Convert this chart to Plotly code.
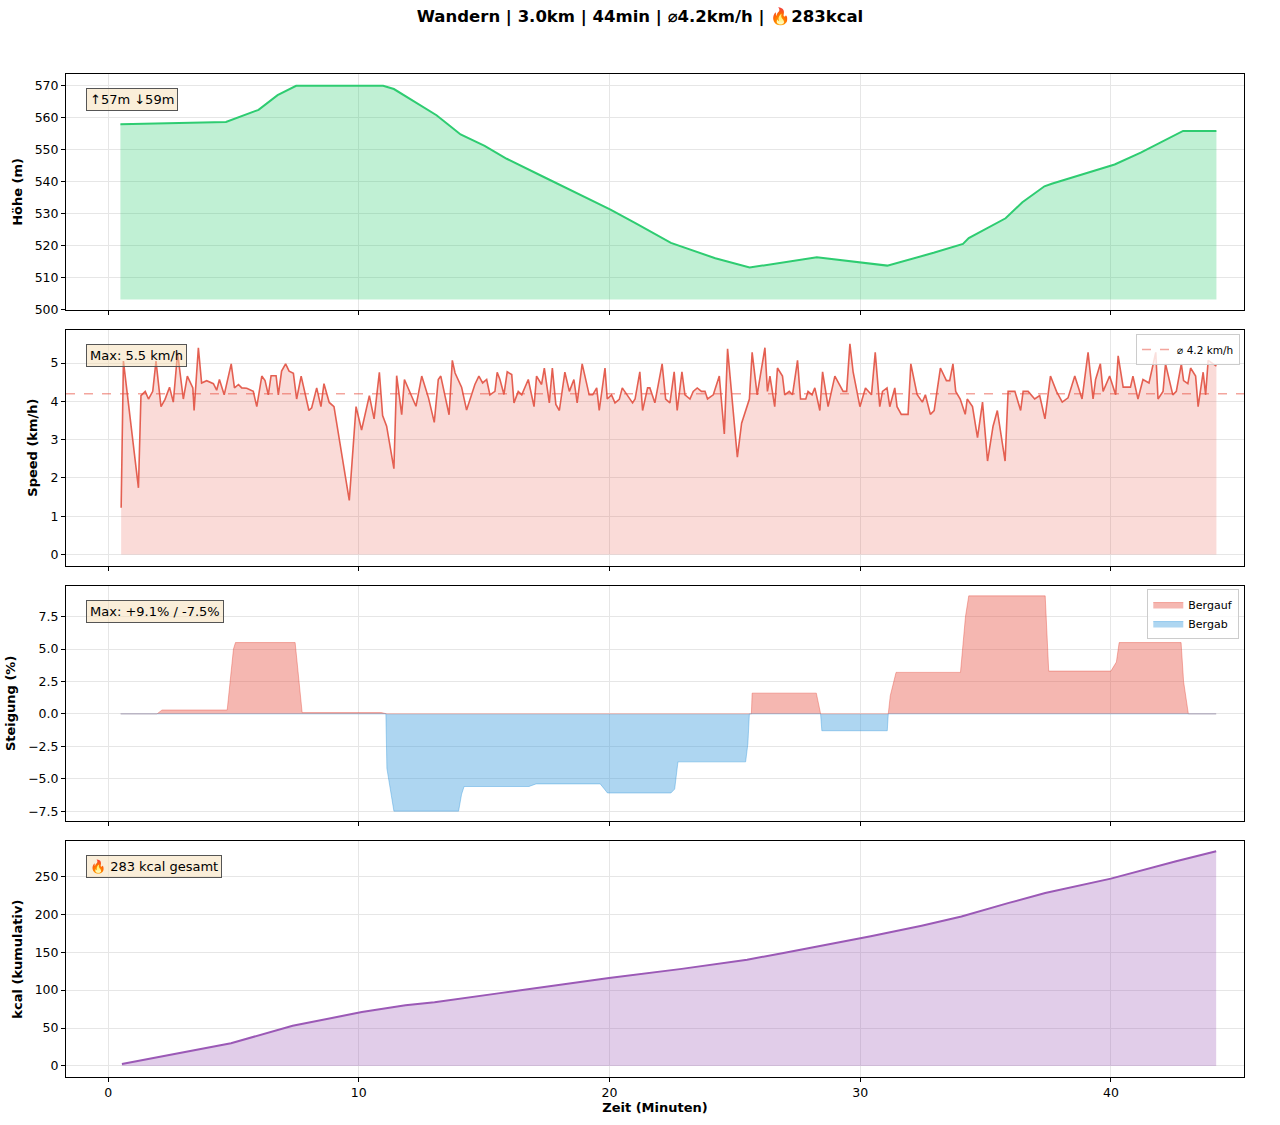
import numpy as np
import plotly.graph_objects as go
from plotly.subplots import make_subplots

# ---------------- DATA ----------------
title_text = "Wandern | 3.0km | 44min | ⌀4.2km/h | 🔥283kcal"

elev_t = [0.49, 4.70, 6.0, 6.76, 7.50, 10.97, 11.4, 13.1, 13.6, 14.06, 15.02, 15.9, 17.38, 18.86,
          20.04, 21.07, 22.0, 22.45, 24.22, 25.59, 28.27, 29.98, 31.08, 32.93, 34.1, 34.33,
          35.8, 36.47, 37.35, 37.64, 40.15, 41.19, 42.88, 44.21]
elev_m = [558.0, 558.7, 562.5, 567.1, 570.0, 570.0, 569.0, 560.8, 557.7, 554.8, 551.2, 547.2, 541.5, 535.7,
          531.3, 526.9, 522.8, 520.9, 516.1, 513.2, 516.4, 514.8, 513.8, 517.8, 520.6, 522.4,
          528.6, 533.6, 538.6, 539.4, 545.4, 549.1, 555.9, 555.9]
elev_label = "↑57m ↓59m"

speed_t = [0.52, 0.61, 1.21, 1.31, 1.48, 1.61, 1.78, 1.91, 2.11, 2.27, 2.45, 2.60, 2.77, 3.00, 3.16, 3.38,
           3.43, 3.60, 3.73, 3.93, 4.20, 4.33, 4.44, 4.63, 4.91, 5.04, 5.20, 5.33, 5.53, 5.79, 5.93, 6.13,
           6.26, 6.39, 6.50, 6.70, 6.79, 6.92, 7.08, 7.22, 7.39, 7.52, 7.70, 8.01, 8.12, 8.32, 8.49, 8.61,
           8.82, 9.01, 9.62, 9.89, 10.11, 10.42, 10.61, 10.82, 10.95, 11.11, 11.40, 11.51, 11.71, 11.82,
           12.28, 12.51, 12.78, 13.01, 13.17, 13.27, 13.60, 13.73, 13.84, 14.10, 14.30, 14.63, 14.79, 14.94,
           15.10, 15.23, 15.43, 15.52,
           15.63, 15.79, 15.92, 16.10, 16.19, 16.36, 16.50, 16.76, 16.99, 17.09, 17.29, 17.40, 17.60, 17.72,
           17.86, 18.00, 18.22, 18.40, 18.58, 18.71, 18.91, 19.19, 19.33, 19.49, 19.59, 19.82, 19.91, 20.08,
           20.22, 20.39, 20.51, 20.68, 20.92, 21.02, 21.21, 21.32, 21.52, 21.61, 21.81, 22.10, 22.24, 22.41,
           22.58, 22.70, 22.89, 23.01, 23.21, 23.34, 23.50, 23.67, 23.81, 23.91, 24.14, 24.38, 24.58, 24.71,
           25.10, 25.27, 25.58, 25.69, 25.89, 26.20, 26.30, 26.40, 26.59, 26.70, 26.90, 26.99, 27.17, 27.30,
           27.50, 27.62, 27.83, 27.92, 28.08, 28.19, 28.39, 28.50, 28.72, 28.99, 29.19, 29.32, 29.46, 29.59,
           29.72, 29.99, 30.21, 30.45, 30.60, 30.78, 30.89, 31.07, 31.18, 31.38,
           31.47, 31.64, 31.91, 32.02, 32.27, 32.48, 32.60, 32.80, 32.95, 33.20, 33.44, 33.57, 33.70, 33.81,
           33.99, 34.19, 34.27, 34.48, 34.68, 34.88, 35.08, 35.30, 35.47, 35.78, 35.90, 36.17, 36.40, 36.50,
           36.70, 36.96, 37.16, 37.37, 37.59, 37.83, 38.06, 38.29, 38.56, 38.85, 39.09, 39.29, 39.39, 39.58,
           39.69, 39.95, 40.19, 40.29, 40.49, 40.78, 40.88, 41.08, 41.28, 41.52, 41.79, 41.88, 42.08, 42.18,
           42.47, 42.61, 42.81, 42.90, 43.07, 43.18, 43.38, 43.48, 43.68, 43.78, 43.88, 44.08, 44.21]
speed_kmh = [1.22, 5.05, 1.74, 4.15, 4.26, 4.06, 4.26, 5.05, 3.86, 4.05, 4.37, 3.98, 5.27, 4.06, 4.66, 4.35,
             3.76, 5.40, 4.48, 4.54, 4.46, 4.29, 4.57, 4.17, 4.98, 4.35, 4.44, 4.35, 4.34, 4.26, 3.86, 4.66,
             4.54, 4.17, 4.67, 4.67, 4.17, 4.79, 4.98, 4.79, 4.73, 4.06, 4.66, 3.76, 3.83, 4.35, 3.86, 4.46,
             3.97, 3.86, 1.41, 3.86, 3.25, 4.15, 3.54, 4.76, 3.63, 3.35, 2.24, 4.67, 3.65, 4.57,
             3.87, 4.66, 4.09, 3.45, 4.57, 4.66, 3.65, 5.07, 4.74, 4.37, 3.77, 4.44, 4.66, 4.48,
             4.57, 4.17, 4.26, 4.76,
             4.57, 4.18, 4.77, 4.70, 3.96, 4.26, 4.17, 4.57, 3.86, 4.66, 4.44, 4.87, 3.96, 4.87,
             3.92, 3.76, 4.76, 4.26, 4.57, 3.96, 4.98, 4.17, 4.17, 4.35, 3.76, 4.87, 4.06, 4.17,
             3.96, 4.05, 4.35, 4.18, 3.96, 4.06, 4.77, 3.76, 4.35, 4.35, 3.96, 4.98, 4.06, 3.96,
             4.77, 3.76, 4.77, 4.17, 4.06, 4.26, 4.35, 4.26, 4.26, 4.06, 4.17, 4.66, 3.15, 5.37,
             2.54, 3.43, 4.06, 5.28, 4.17, 5.40, 4.26, 4.66, 3.86, 4.87, 4.66, 4.17, 4.26, 4.17,
             5.07, 4.06, 4.06, 4.26, 4.17, 4.35, 3.76, 4.77, 3.86, 4.66, 4.44, 4.26, 4.26, 5.50,
             4.76, 3.86, 4.35, 4.17, 5.28, 3.86, 4.26, 4.35, 3.86, 4.35,
             3.86, 3.66, 3.66, 4.98, 4.18, 3.98, 4.17, 3.66, 3.76, 4.87, 4.54, 4.54, 4.98, 4.26,
             4.06, 3.66, 4.06, 3.86, 3.05, 3.98, 2.44, 3.35, 3.76, 2.44, 4.26, 4.26, 3.76, 4.26,
             4.26, 4.06, 4.15, 3.54, 4.66, 4.26, 3.98, 4.09, 4.66, 4.06, 5.28, 4.06, 4.57, 4.98,
             4.26, 4.66, 4.17, 5.19, 4.37, 4.37, 4.66, 4.06, 4.57, 4.48, 5.28, 4.06, 4.26, 4.98,
             4.17, 4.26, 4.98, 4.54, 4.46, 4.87, 4.66, 3.86, 4.76, 4.17, 5.07, 4.98, 4.92]
speed_mean = 4.2
speed_label = "Max: 5.5 km/h"
speed_legend = "⌀ 4.2 km/h"

grade_t = [0.5, 1.95, 2.15, 4.75, 5.0, 5.08, 7.46, 7.6, 7.74, 10.9, 11.08, 11.12, 11.4, 13.98, 14.1, 14.2,
           16.79, 17.07, 19.63, 19.92, 22.45, 22.6, 22.73, 25.43, 25.52, 25.58, 25.66, 25.69, 28.25, 28.39,
           28.42, 28.47, 31.08, 31.12, 31.2, 31.43, 34.0, 34.2, 34.33, 37.38, 37.52, 40.0, 40.22, 40.33,
           42.8, 42.9, 43.09, 44.2]
grade_pct = [0.0, 0.0, 0.3, 0.3, 5.0, 5.5, 5.5, 3.0, 0.1, 0.1, 0.0, -4.2, -7.5, -7.5, -6.2, -5.6,
             -5.6, -5.4, -5.4, -6.1, -6.1, -5.8, -3.7, -3.7, -2.3, 0.0, 0.0, 1.6, 1.6, 0.3,
             0.0, -1.3, -1.3, 0.0, 1.4, 3.2, 3.2, 7.5, 9.1, 9.1, 3.3, 3.3, 4.0, 5.5,
             5.5, 2.5, 0.0, 0.0]
grade_label = "Max: +9.1% / -7.5%"

kcal_t = [0.55, 4.9, 7.36, 10.12, 11.86, 13.02, 15.63, 19.98, 22.88, 25.49, 26.94, 30.42, 32.45,
          34.04, 35.93, 37.38, 40.0, 42.6, 44.2]
kcal_cum = [2.6, 30, 53, 71, 80, 84, 96, 116, 128, 140, 149, 171, 185,
            197, 215, 228, 247, 270, 283]
kcal_label = "🔥 283 kcal gesamt"

x_ticks = [0, 10, 20, 30, 40]

# ---------------- FIGURE ----------------
FONT = "DejaVu Sans"
fig = make_subplots(rows=4, cols=1, shared_xaxes=True, vertical_spacing=20 / 1003)

# Elevation
elev_base = min(elev_m) - 10
fig.add_trace(go.Scatter(x=elev_t, y=[elev_base] * len(elev_t), mode="lines", line=dict(width=0),
                         showlegend=False, hoverinfo="skip"), row=1, col=1)
fig.add_trace(go.Scatter(x=elev_t, y=elev_m, mode="lines", fill="tonexty",
                         fillcolor="rgba(46,204,113,0.3)", line=dict(color="#2ecc71", width=2),
                         showlegend=False), row=1, col=1)

# Speed
fig.add_trace(go.Scatter(x=speed_t, y=speed_kmh, mode="lines", fill="tozeroy",
                         fillcolor="rgba(231,76,60,0.2)", line=dict(color="rgba(225,80,64,0.9)", width=1.6),
                         showlegend=False), row=2, col=1)
fig.add_hline(y=speed_mean, row=2, col=1, line=dict(color="rgba(231,76,60,0.5)", dash="dash", width=1.5),
              showlegend=True, name=speed_legend, legend="legend")

# Grade
g = np.array(grade_pct)
fig.add_hline(y=0, row=3, col=1, line=dict(color="rgba(80,80,80,0.8)", width=0.6))
fig.add_trace(go.Scatter(x=grade_t, y=np.clip(g, 0, None), mode="lines", fill="tozeroy",
                         fillcolor="rgba(231,76,60,0.4)", line=dict(color="rgba(231,76,60,0.4)", width=1),
                         name="Bergauf", legend="legend2"), row=3, col=1)
fig.add_trace(go.Scatter(x=grade_t, y=np.clip(g, None, 0), mode="lines", fill="tozeroy",
                         fillcolor="rgba(52,152,219,0.4)", line=dict(color="rgba(52,152,219,0.4)", width=1),
                         name="Bergab", legend="legend2"), row=3, col=1)

# kcal
fig.add_trace(go.Scatter(x=kcal_t, y=kcal_cum, mode="lines", fill="tozeroy",
                         fillcolor="rgba(155,89,182,0.3)", line=dict(color="#9b59b6", width=2),
                         showlegend=False), row=4, col=1)

# Axes
xr = [-1.68, 45.31]
grid = "#e6e6e6"
for r in range(1, 5):
    fig.update_xaxes(row=r, col=1, range=xr, tickvals=x_ticks, showline=True, linecolor="black",
                     linewidth=1, mirror=True, ticks="outside", ticklen=4, tickcolor="black",
                     showgrid=True, gridcolor=grid, zeroline=False, automargin=False,
                     tickfont=dict(size=12.5, color="black", family=FONT))
    fig.update_yaxes(row=r, col=1, showline=True, linecolor="black", linewidth=1, mirror=True,
                     ticks="outside", ticklen=4, tickcolor="black", showgrid=True, gridcolor=grid,
                     zeroline=False, automargin=False, tickfont=dict(size=12.5, color="black", family=FONT),
                     title_font=dict(size=13, color="black", family=FONT), title_standoff=9)

fig.update_xaxes(row=4, col=1, title=dict(text="<b>Zeit (Minuten)</b>", standoff=2,
                                          font=dict(size=13, color="black", family=FONT)))
fig.update_yaxes(row=1, col=1, range=[500, 573.7], tickvals=[500, 510, 520, 530, 540, 550, 560, 570],
                 title_text="<b>Höhe (m)</b>")
fig.update_yaxes(row=2, col=1, range=[-0.29, 5.87], tickvals=[0, 1, 2, 3, 4, 5],
                 title_text="<b>Speed (km/h)</b>")
fig.update_yaxes(row=3, col=1, range=[-8.28, 9.9], tickvals=[-7.5, -5, -2.5, 0, 2.5, 5, 7.5],
                 ticktext=["−7.5", "−5.0", "−2.5", "0.0", "2.5", "5.0", "7.5"],
                 title_text="<b>Steigung (%)</b>")
fig.update_yaxes(row=4, col=1, range=[-14.6, 296.3], tickvals=[0, 50, 100, 150, 200, 250],
                 title_text="<b>kcal (kumulativ)</b>")

# Annotation boxes
box_style = dict(xanchor="left", yanchor="top", showarrow=False, align="left",
                 bgcolor="rgba(245,222,179,0.5)", bordercolor="#555555", borderwidth=1, borderpad=3,
                 font=dict(size=13, color="black", family=FONT))
for i, txt in enumerate([elev_label, speed_label, grade_label, kcal_label]):
    suffix = "" if i == 0 else str(i + 1)
    fig.add_annotation(text=txt, xref=f"x{suffix} domain", yref=f"y{suffix} domain",
                       x=0.017, y=0.94, **box_style)

fig.update_layout(
    width=1280, height=1125,
    margin=dict(l=66, r=36, t=74, b=48, autoexpand=False),
    paper_bgcolor="white", plot_bgcolor="white",
    font=dict(family=FONT, color="black"),
    title=dict(text="<b>" + title_text + "</b>", x=0.5, xref="container", xanchor="center",
               y=1 - 16 / 1125, yref="container", yanchor="middle",
               font=dict(size=16.5, color="black", family=FONT)),
    legend=dict(x=0.9966, xanchor="right", y=0.7408, yanchor="top", bgcolor="rgba(255,255,255,0.8)",
                bordercolor="#cccccc", borderwidth=1, font=dict(size=10.5, family=FONT),
                itemwidth=30, tracegroupgap=0),
    legend2=dict(x=0.996, xanchor="right", y=0.4865, yanchor="top", bgcolor="rgba(255,255,255,0.8)",
                 bordercolor="#cccccc", borderwidth=1, font=dict(size=11, family=FONT),
                 itemwidth=30, tracegroupgap=0),
)

fig.write_html("out.html")
